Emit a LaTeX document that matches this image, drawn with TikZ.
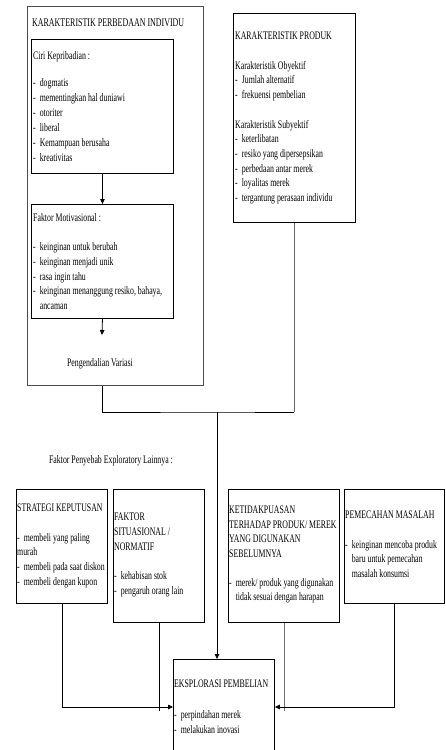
\documentclass[tikz,border=0pt]{standalone}
\usepackage{fontspec}
\setmainfont{Liberation Serif}[FakeStretch=0.68]
\usetikzlibrary{arrows.meta}
\newcommand{\itm}{-\hspace{4pt}}
\newcommand{\ind}{\hspace*{6.6pt}}
\begin{document}
\begin{tikzpicture}[x=1pt,y=-1pt,
  box/.style={draw=black, line width=0.9pt, anchor=north west, inner sep=0pt},
  txt/.style={anchor=north west, inner sep=0pt, align=left, font=\fontsize{11.5}{14.7}\selectfont},
  lbl/.style={inner sep=0pt, font=\fontsize{11.5}{14.7}\selectfont},
  conn/.style={line width=0.8pt, draw=black},
  arr/.style={conn, -{Triangle[length=5pt,width=4.5pt]}}]
\useasboundingbox (0,0) rectangle (445,750);
\fill[white] (0,0) rectangle (445,750);

% Karakteristik perbedaan individu
\node[box, draw=black!70, minimum width=176pt, minimum height=379pt] (A) at (27,6) {};
\node[txt, font=\fontsize{11.7}{15}\selectfont] (At) at (32,19) {KARAKTERISTIK PERBEDAAN INDIVIDU};
\node[box, minimum width=142pt, minimum height=134pt] (A1) at (31,39) {};
\node[txt, font=\fontsize{11.5}{15}\selectfont] (A1t) at (33,51) {Ciri Kepribadian :\\[12pt]\itm dogmatis\\\itm mementingkan hal duniawi\\\itm otoriter\\\itm liberal\\\itm Kemampuan berusaha\\\itm kreativitas};
\node[box, minimum width=142pt, minimum height=114pt] (A2) at (31,204) {};
\node[txt, font=\fontsize{11.5}{14.75}\selectfont] (A2t) at (33,213) {Faktor Motivasional :\\[14.75pt]\itm keinginan untuk berubah\\\itm keinginan menjadi unik\\\itm rasa ingin tahu\\\itm keinginan menanggung resiko, bahaya,\\\ind ancaman};
\coordinate (V) at (102,335);
\node[lbl] (pv) at (100,364) {Pengendalian Variasi};
\draw[arr] (A1.south) -- (A2.north);
\draw[arr] (A2.south) -- (V);

% Karakteristik produk
\node[box, minimum width=122pt, minimum height=209pt] (B) at (233,13) {};
\node[txt] (Bt) at (235,32) {KARAKTERISTIK PRODUK\\[14.7pt]Karakteristik Obyektif\\\itm Jumlah alternatif\\\itm frekuensi pembelian\\[14.7pt]Karakteristik Subyektif\\\itm keterlibatan\\\itm resiko yang dipersepsikan\\\itm perbedaan antar merek\\\itm loyalitas merek\\\itm tergantung perasaan individu};

% junction
\coordinate (J) at (217,412);
\draw[conn] (A.south -| A2.south) |- (J) -- (J -| B.south);
\draw[conn, draw=black!60] (B.south) -- (J -| B.south);

\node[lbl] (fp) at (111,461) {Faktor Penyebab Exploratory Lainnya :};

% bottom boxes
\node[box, minimum width=91pt, minimum height=114pt] (S) at (16,489) {};
\node[txt] (St) at (17,504) {STRATEGI KEPUTUSAN\\[14.7pt]\itm membeli yang paling\\murah\\\itm membeli pada saat diskon\\\itm membeli dengan kupon};
\node[box, minimum width=91pt, minimum height=133pt] (F) at (113,489) {};
\node[txt] (Ft) at (114,513) {FAKTOR\\SITUASIONAL /\\NORMATIF\\[14.7pt]\itm kehabisan stok\\\itm pengaruh orang lain};
\node[box, minimum width=111pt, minimum height=133pt] (K) at (228,489) {};
\node[txt, font=\fontsize{11.5}{14.5}\selectfont] (Kt) at (229,506) {KETIDAKPUASAN\\TERHADAP PRODUK/ MEREK\\YANG DIGUNAKAN\\SEBELUMNYA\\[14.5pt]\itm merek/ produk yang digunakan\\\ind tidak sesuai dengan harapan};
\node[box, minimum width=100pt, minimum height=114pt] (P) at (344,489) {};
\node[txt] (Pt) at (345,511) {PEMECAHAN MASALAH\\[14.7pt]\itm keinginan mencoba produk\\\ind baru untuk pemecahan\\\ind masalah konsumsi};

% eksplorasi
\node[box, minimum width=101pt, minimum height=95pt] (E) at (173,659) {};
\node[txt] (Et) at (174,680) {EKSPLORASI PEMBELIAN\\[16.3pt]\itm perpindahan merek\\\itm melakukan inovasi};

\draw[arr] (J) -- (J |- E.north);
\coordinate (lv) at (0,707);
\draw[arr] (S.south) |- (E.north west |- lv);
\draw[conn] (F.south) -- ++(0,88);
\draw[conn, draw=black!55] (K.south) -- ++(0,88);
\draw[arr] (P.south) |- (E.north east |- lv);
\end{tikzpicture}
\end{document}
